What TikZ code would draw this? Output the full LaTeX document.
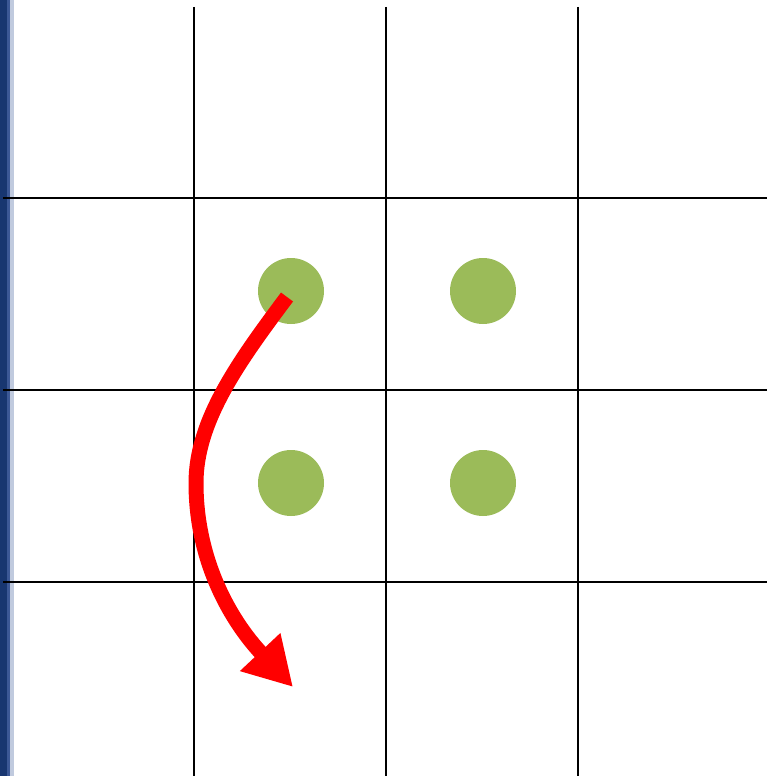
\documentclass[tikz,border=0pt]{standalone}
\usepackage{tikz}
\usetikzlibrary{arrows.meta,positioning}
\definecolor{BarBlue}{RGB}{24, 54, 112}
\definecolor{BarMid}{RGB}{60, 88, 150}
\definecolor{BarLight}{RGB}{192, 202, 222}
\definecolor{DotGreen}{RGB}{155, 187, 89}

\begin{document}
\begin{tikzpicture}[
    x=1pt, y=-1pt,
    dot/.style={circle, fill=DotGreen, minimum size=66pt, inner sep=0pt},
    gridline/.style={black, line width=2.4pt},
    move/.style={red, line width=15pt, -{Triangle[length=48pt, width=52pt]}}
  ]
    \useasboundingbox (0,0) rectangle (767,776);

    % frame on the left
    \fill[BarBlue] (0,0) rectangle (7,776);
    \fill[BarMid] (7,0) rectangle (10,776);
    \fill[BarLight] (10,0) rectangle (14,776);

    % grid
    \foreach \v in {194,386,578} \draw[gridline] (\v,7) -- (\v,776);
    \foreach \h in {198,390,582} \draw[gridline] (3,\h) -- (767,\h);

    % pieces
    \node[dot] (a) at (291,291) {};
    \node[dot] (b) at (483,291) {};
    \node[dot] (c) at (291,483) {};
    \node[dot] (d) at (483,483) {};

    \coordinate (start) at (287,297);
    \coordinate (turn) at (196,483);
    \coordinate (tip) at (293,687);

    \draw[move] (start) .. controls (240,360) and (196,420) .. (turn)
      .. controls (196,560) and (230,620) .. (tip);
  \end{tikzpicture}
\end{document}
